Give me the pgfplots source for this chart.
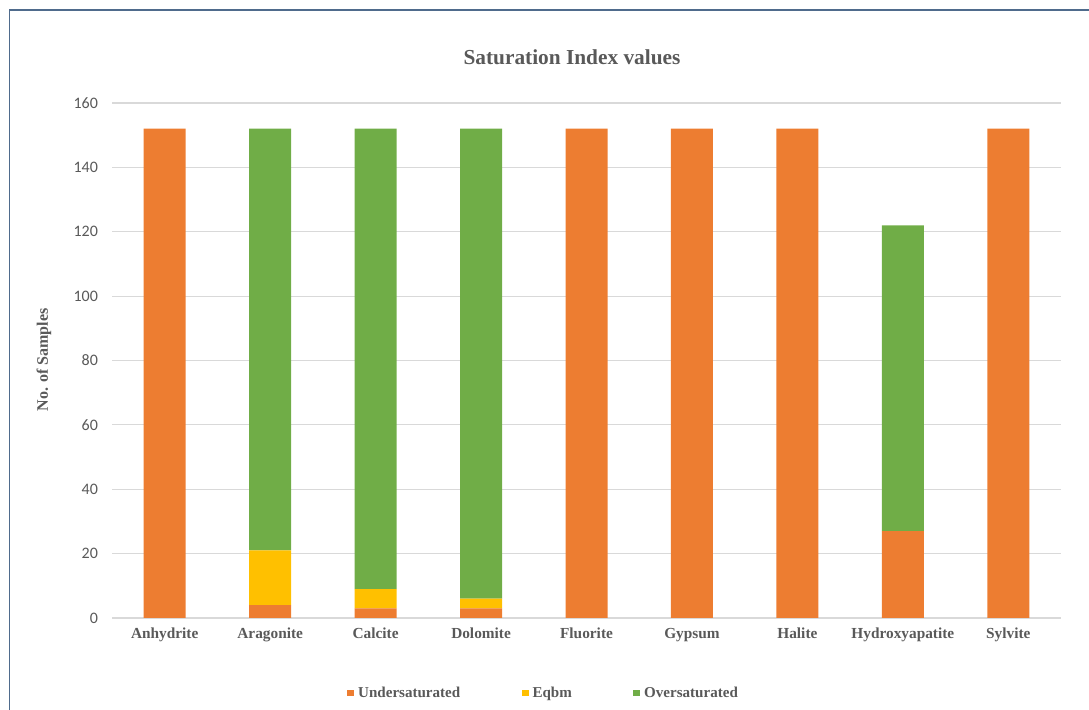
\documentclass[border=0pt]{standalone}
\usepackage{fontspec}
\setmainfont{Liberation Serif}
\newfontfamily\tickfont{Carlito}
\usepackage{pgfplots}
\pgfplotsset{compat=1.18}

\definecolor{under}{HTML}{ED7D31}
\definecolor{eqbm}{HTML}{FFC000}
\definecolor{over}{HTML}{70AD47}
\definecolor{txt}{HTML}{595959}
\definecolor{gridc}{HTML}{D9D9D9}
\definecolor{framec}{HTML}{4F6B8C}

\begin{document}
\begin{tikzpicture}
\useasboundingbox (0pt,0pt) rectangle (816.75pt,532.5pt);
\draw[framec, line width=1.1pt] (7.1pt,-5pt) -- (7.1pt,525pt) -- (830pt,525pt);

\begin{axis}[
  at={(84pt,69pt)}, anchor=south west,
  scale only axis, width=711.75pt, height=386.25pt,
  ybar stacked, bar width=31.5pt,
  xmin=-0.5, xmax=8.5, ymin=0, ymax=160,
  xtick={0,...,8},
  xticklabels={Anhydrite,Aragonite,Calcite,Dolomite,Fluorite,Gypsum,Halite,Hydroxyapatite,Sylvite},
  ytick={0,20,...,160},
  axis x line*=bottom, axis y line*=left,
  x axis line style={gridc, line width=0.8pt, -},
  y axis line style={draw=none},
  major tick length=0pt,
  ymajorgrids, grid style={gridc, line width=0.8pt},
  /pgf/number format/assume math mode=true,
  yticklabel style={font=\tickfont\fontsize{12}{12}\selectfont, text=txt, xshift=-7pt},
  xticklabel style={font=\bfseries\fontsize{11.5}{12}\selectfont, text=txt, yshift=-4pt},
  legend columns=3,
  legend style={at={(0.2476,-0.1456)}, anchor=west, draw=none, inner sep=0pt,
    font=\bfseries\fontsize{11.3}{12}\selectfont, text=txt,
    /tikz/every even column/.append style={column sep=44pt},
    /tikz/every odd column/.append style={column sep=1pt}},
  legsq/.style={legend image code/.code={\fill[##1] (0pt,-2.6pt) rectangle (5.2pt,2.6pt);}},
]
\addplot[fill=under, draw=none, legsq] coordinates {(0,152) (1,4) (2,3) (3,3) (4,152) (5,152) (6,152) (7,27) (8,152)};
\addplot[fill=eqbm, draw=none, legsq] coordinates {(0,0) (1,17) (2,6) (3,3) (4,0) (5,0) (6,0) (7,0) (8,0)};
\addplot[fill=over, draw=none, legsq] coordinates {(0,0) (1,131) (2,143) (3,146) (4,0) (5,0) (6,0) (7,95) (8,0)};
\legend{Undersaturated,Eqbm,Oversaturated}
\end{axis}

\node[font=\bfseries\fontsize{16}{18}\selectfont, text=txt] at (429pt,489.75pt) {Saturation Index values};
\node[font=\bfseries\fontsize{12}{12}\selectfont, text=txt, rotate=90] at (33pt,262.5pt) {No. of Samples};
\end{tikzpicture}
\end{document}
